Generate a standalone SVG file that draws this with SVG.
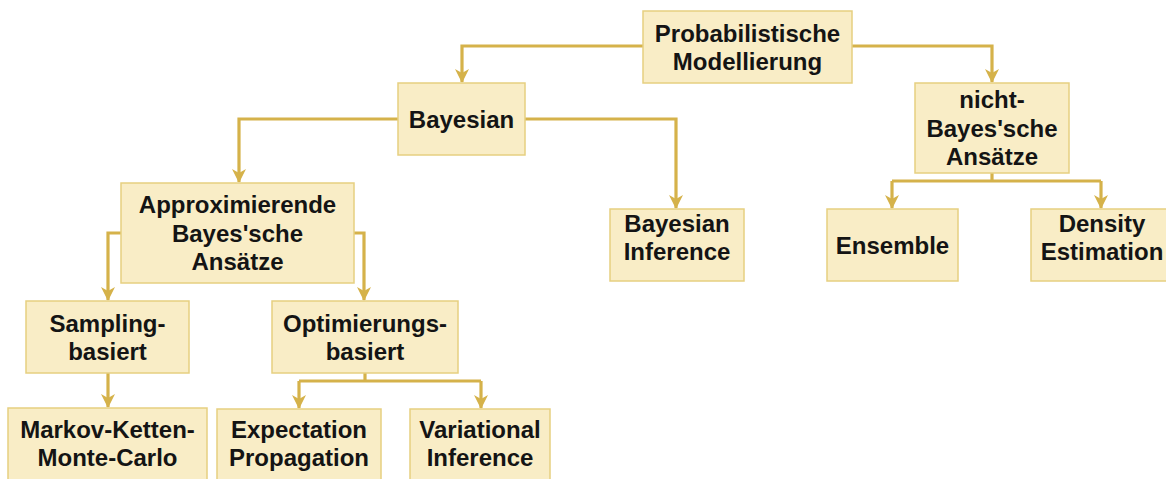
<svg xmlns="http://www.w3.org/2000/svg" width="1166" height="479" viewBox="0 0 1166 479">
<defs>
<style>
.box{fill:#f9edc6;stroke:#e6cf80;stroke-width:1.5}
.t{font-family:"Liberation Sans",Arial,sans-serif;font-weight:bold;font-size:24px;fill:#141414;text-anchor:middle}
.c{fill:none;stroke:#d5b24a;stroke-width:3.2}
</style>
<marker id="ah" viewBox="0 0 14 14" refX="13" refY="7" markerWidth="14" markerHeight="14" markerUnits="userSpaceOnUse" orient="auto">
<path d="M0,0 L14,7 L0,14 L4,7 Z" fill="#d5b24a"/>
</marker>
</defs>
<rect width="1166" height="479" fill="#ffffff"/>
<g id="connectors">
<path class="c" d="M643,46 H462 V82" marker-end="url(#ah)"/>
<path class="c" d="M852,46 H992 V82" marker-end="url(#ah)"/>
<path class="c" d="M398,119 H239 V182" marker-end="url(#ah)"/>
<path class="c" d="M525,119 H676 V208" marker-end="url(#ah)"/>
<path class="c" d="M992,173 V181"/>
<path class="c" d="M892,181 H1101"/>
<path class="c" d="M892,181 V208" marker-end="url(#ah)"/>
<path class="c" d="M1101,181 V208" marker-end="url(#ah)"/>
<path class="c" d="M121,233 H108 V300" marker-end="url(#ah)"/>
<path class="c" d="M354,233 H364 V300" marker-end="url(#ah)"/>
<path class="c" d="M108,373 V407" marker-end="url(#ah)"/>
<path class="c" d="M365,373 V381"/>
<path class="c" d="M299,381 H481"/>
<path class="c" d="M299,381 V408" marker-end="url(#ah)"/>
<path class="c" d="M481,381 V408" marker-end="url(#ah)"/>
</g>
<g id="prob">
<rect class="box" x="643" y="11" width="209" height="72"/>
<text class="t" x="747.5" y="41.5">Probabilistische</text>
<text class="t" x="747.5" y="69.5">Modellierung</text>
</g>
<g id="bayesian">
<rect class="box" x="398" y="83" width="127" height="72"/>
<text class="t" x="461.5" y="127.5">Bayesian</text>
</g>
<g id="nichtbayes">
<rect class="box" x="915" y="83" width="154" height="90"/>
<text class="t" x="992" y="108">nicht-</text>
<text class="t" x="992" y="136.5">Bayes'sche</text>
<text class="t" x="992" y="165">Ansätze</text>
</g>
<g id="approx">
<rect class="box" x="121" y="183" width="233" height="100"/>
<text class="t" x="237.5" y="213.3">Approximierende</text>
<text class="t" x="237.5" y="241.6">Bayes'sche</text>
<text class="t" x="237.5" y="270">Ansätze</text>
</g>
<g id="bayesinf">
<rect class="box" x="610" y="209" width="134" height="72"/>
<text class="t" x="677" y="231.6">Bayesian</text>
<text class="t" x="677" y="259.6">Inference</text>
</g>
<g id="ensemble">
<rect class="box" x="827" y="209" width="131" height="72"/>
<text class="t" x="892.5" y="253.6">Ensemble</text>
</g>
<g id="density">
<rect class="box" x="1031" y="209" width="140" height="72"/>
<text class="t" x="1102" y="231.6">Density</text>
<text class="t" x="1102" y="259.6">Estimation</text>
</g>
<g id="sampling">
<rect class="box" x="26" y="301" width="163" height="72"/>
<text class="t" x="107.5" y="331.6">Sampling-</text>
<text class="t" x="107.5" y="359.6">basiert</text>
</g>
<g id="optim">
<rect class="box" x="272" y="301" width="186" height="72"/>
<text class="t" x="365" y="331.6">Optimierungs-</text>
<text class="t" x="365" y="359.6">basiert</text>
</g>
<g id="markov">
<rect class="box" x="8" y="408" width="199" height="74"/>
<text class="t" x="107.5" y="437.5">Markov-Ketten-</text>
<text class="t" x="107.5" y="465.5">Monte-Carlo</text>
</g>
<g id="expect">
<rect class="box" x="217" y="409" width="164" height="73"/>
<text class="t" x="299" y="437.5">Expectation</text>
<text class="t" x="299" y="465.5">Propagation</text>
</g>
<g id="variat">
<rect class="box" x="410" y="409" width="140" height="73"/>
<text class="t" x="480" y="437.5">Variational</text>
<text class="t" x="480" y="465.5">Inference</text>
</g>
</svg>
